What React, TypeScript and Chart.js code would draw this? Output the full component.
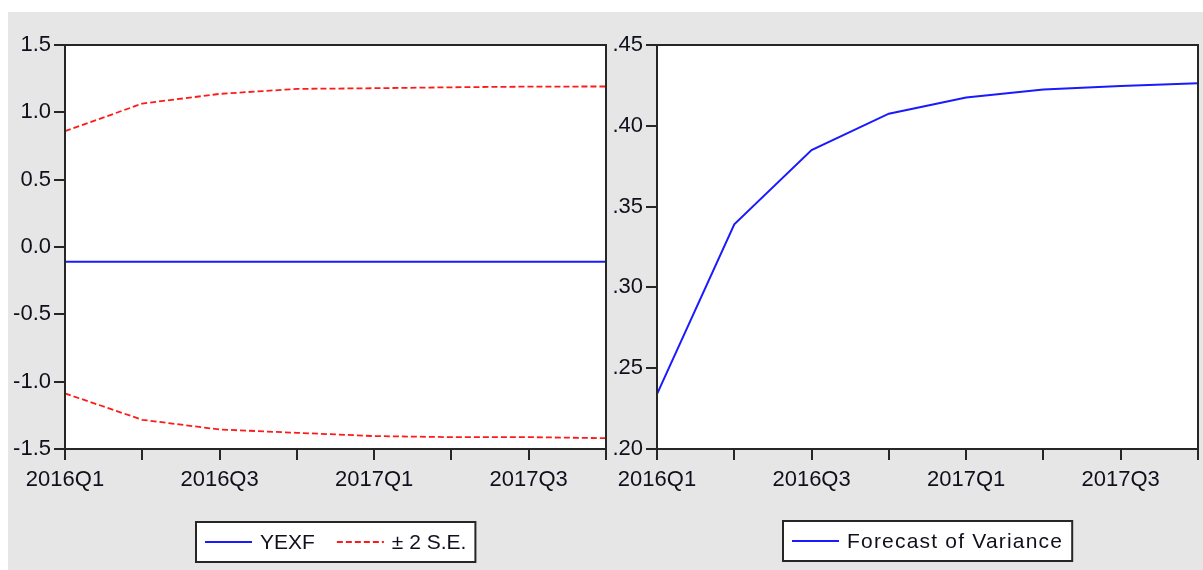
import React, { useEffect, useRef } from "react";
import { Chart, registerables } from "chart.js";

Chart.register(...registerables);

const quarters = ["2016Q1", "2016Q2", "2016Q3", "2016Q4", "2017Q1", "2017Q2", "2017Q3", "2017Q4"];
const yexf = [-0.11, -0.11, -0.11, -0.11, -0.11, -0.11, -0.11, -0.11];
const upperSE = [0.86, 1.065, 1.137, 1.174, 1.179, 1.186, 1.191, 1.192];
const lowerSE = [-1.087, -1.283, -1.355, -1.38, -1.404, -1.412, -1.412, -1.42];
const variance = [0.234, 0.339, 0.385, 0.4075, 0.4175, 0.4225, 0.4247, 0.4263];

const leftYTicks = { min: -1.5, max: 1.5, step: 0.5 };
const rightYTicks = { min: 0.2, max: 0.45, step: 0.05 };

const FONT = '"Liberation Sans", Arial, sans-serif';
const TEXT = "#10101c";
const FRAME = "#262626";

const framePlugin = {
  id: "frame",
  beforeDatasetsDraw(chart: any) {
    const { ctx, chartArea: a } = chart;
    ctx.save();
    ctx.fillStyle = "#ffffff";
    ctx.fillRect(a.left, a.top, a.right - a.left, a.bottom - a.top);
    ctx.restore();
  },
  afterDatasetsDraw(chart: any) {
    const { ctx, chartArea: a } = chart;
    ctx.save();
    ctx.strokeStyle = FRAME;
    ctx.lineWidth = 2;
    ctx.strokeRect(a.left, a.top, a.right - a.left, a.bottom - a.top);
    ctx.restore();
  },
};

const boxLegend = {
  id: "boxLegend",
  afterDraw(chart: any, _args: any, opts: any) {
    const ctx = chart.ctx;
    const { left, right, bottom } = chart.chartArea;
    const seen = new Set();
    const items = chart.data.datasets.filter((d: any) => {
      if (seen.has(d.label)) return false;
      seen.add(d.label);
      return true;
    });
    ctx.save();
    ctx.font = `${opts.fontSize}px ${FONT}`;
    (ctx as any).letterSpacing = opts.letterSpacing || "0px";
    const lineW = 47, gap = 8, itemGap = 22, padX = 9;
    const widths = items.map((d: any) => ctx.measureText(d.label).width);
    const total =
      padX * 2 +
      widths.reduce((s: number, w: number) => s + lineW + gap + w, 0) +
      itemGap * (items.length - 1);
    const x0 = Math.round((left + right) / 2 - total / 2);
    const y0 = Math.round(bottom + opts.offset);
    const h = opts.height;
    ctx.fillStyle = "#ffffff";
    ctx.fillRect(x0, y0, total, h);
    ctx.strokeStyle = FRAME;
    ctx.lineWidth = 2;
    ctx.strokeRect(x0, y0, total, h);
    let x = x0 + padX;
    const cy = y0 + h / 2;
    items.forEach((d: any, i: number) => {
      ctx.beginPath();
      ctx.setLineDash(d.borderDash || []);
      ctx.strokeStyle = d.borderColor;
      ctx.lineWidth = d.borderWidth;
      ctx.moveTo(x, cy);
      ctx.lineTo(x + lineW, cy);
      ctx.stroke();
      ctx.setLineDash([]);
      x += lineW + gap;
      ctx.fillStyle = TEXT;
      ctx.textBaseline = "middle";
      ctx.textAlign = "left";
      ctx.fillText(d.label, x, cy + 1);
      x += widths[i] + itemGap;
    });
    ctx.restore();
  },
};

function makeOptions(yRange: any, yFmt: (v: number) => string, yWidth: number, padRight: number, legendOpts: any) {
  return {
    responsive: false,
    animation: false,
    devicePixelRatio: 1,
    layout: { padding: { top: 33, right: padRight, bottom: 0, left: 0 } },
    plugins: {
      legend: { display: false },
      tooltip: { enabled: false },
      boxLegend: legendOpts,
    },
    elements: { point: { radius: 0 }, line: { tension: 0 } },
    scales: {
      x: {
        type: "category",
        offset: false,
        afterFit: (s: any) => { s.height = 121; },
        border: { display: false },
        grid: { drawOnChartArea: false, drawTicks: true, tickLength: 11, tickColor: FRAME, lineWidth: 2 },
        ticks: {
          autoSkip: false,
          maxRotation: 0,
          padding: 7,
          color: TEXT,
          font: { family: FONT, size: 22 },
          callback: function (this: any, _v: any, i: number) {
            return i % 2 === 0 ? quarters[i] : "";
          },
        },
      },
      y: {
        min: yRange.min,
        max: yRange.max,
        afterFit: (s: any) => { s.width = yWidth; },
        border: { display: false },
        grid: { drawOnChartArea: false, drawTicks: true, tickLength: 11, tickColor: FRAME, lineWidth: 2 },
        ticks: {
          stepSize: yRange.step,
          padding: 3,
          color: TEXT,
          font: { family: FONT, size: 22 },
          callback: (v: any) => yFmt(Number(v)),
        },
      },
    },
  };
}

export default function App() {
  const leftRef = useRef<HTMLCanvasElement>(null);
  const rightRef = useRef<HTMLCanvasElement>(null);

  useEffect(() => {
    const left = new Chart(leftRef.current as HTMLCanvasElement, {
      type: "line",
      data: {
        labels: quarters,
        datasets: [
          { label: "YEXF", data: yexf, borderColor: "#1a1aff", borderWidth: 2, pointRadius: 0 },
          { label: "± 2 S.E.", data: upperSE, borderColor: "#ff1a1a", borderWidth: 1.8, borderDash: [6, 3], pointRadius: 0 },
          { label: "± 2 S.E.", data: lowerSE, borderColor: "#ff1a1a", borderWidth: 1.8, borderDash: [6, 3], pointRadius: 0 },
        ],
      },
      options: makeOptions(
        leftYTicks,
        (v) => (Math.abs(v) < 1e-9 ? 0 : v).toFixed(1),
        57,
        2,
        { fontSize: 21, offset: 73, height: 40 }
      ) as any,
      plugins: [framePlugin, boxLegend],
    });
    const right = new Chart(rightRef.current as HTMLCanvasElement, {
      type: "line",
      data: {
        labels: quarters,
        datasets: [
          { label: "Forecast of Variance", data: variance, borderColor: "#1a1aff", borderWidth: 2, pointRadius: 0 },
        ],
      },
      options: makeOptions(
        rightYTicks,
        (v) => v.toFixed(2).replace(/^0/, ""),
        47,
        2,
        { fontSize: 21, offset: 72, height: 40, letterSpacing: "1.2px" }
      ) as any,
      plugins: [framePlugin, boxLegend],
    });
    return () => {
      left.destroy();
      right.destroy();
    };
  }, []);

  return (
    <div style={{ position: "absolute", left: 0, top: 0, width: 1203, height: 570, background: "#ffffff", overflow: "hidden" }}>
      <div style={{ position: "absolute", left: 8, top: 12, width: 1195, height: 558, background: "#e6e6e6" }} />
      <canvas ref={leftRef} width={605} height={558} style={{ position: "absolute", left: 8, top: 12, width: 605, height: 558 }} />
      <canvas ref={rightRef} width={595} height={558} style={{ position: "absolute", left: 610, top: 12, width: 595, height: 558 }} />
    </div>
  );
}
